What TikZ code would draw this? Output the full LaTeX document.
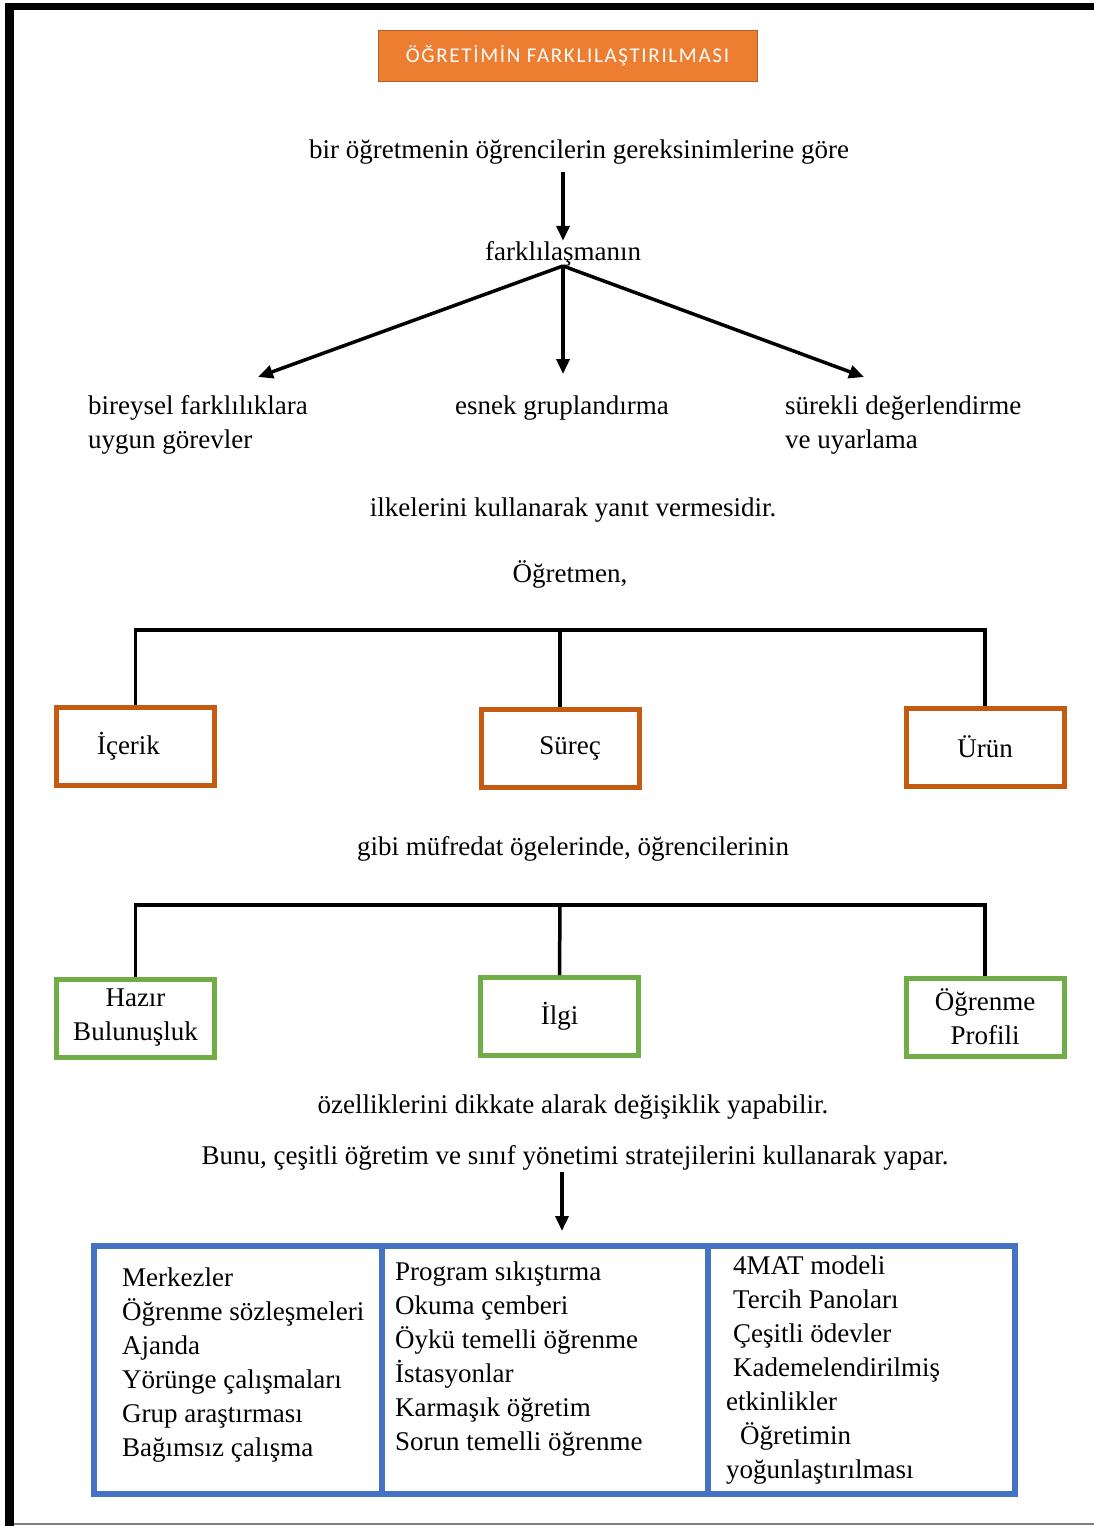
\documentclass[tikz,border=0pt]{standalone}
\usepackage{fontspec}
\setmainfont{Liberation Serif}
\newfontfamily\titlefont[LetterSpace=8]{Carlito}
\usetikzlibrary{arrows.meta,positioning}
\definecolor{titelorange}{HTML}{ED7D31}
\definecolor{kutuorange}{HTML}{C55A11}
\definecolor{kutuyesil}{HTML}{70AD47}
\definecolor{kutumavi}{HTML}{4472C4}
\begin{document}
\begin{tikzpicture}[x=1pt,y=-1pt,>={Triangle[length=15pt,width=13pt]},
	metin/.style={font=\fontsize{27}{34}\selectfont,inner sep=0pt},
	ok/.style={line width=3.5pt,->},
	hat/.style={line width=3.5pt},
	kutu/.style={metin,draw,line width=5pt,minimum width=158pt,minimum height=78pt,align=center},
	liste/.style={metin,align=left}]

\useasboundingbox (0,0) rectangle (1094,1526);
\draw[line width=7pt] (5,6.5) -- (1094,6.5);
\draw[line width=9pt] (9.5,3) -- (9.5,1526);
\draw[gray,line width=1.5pt] (14,1524) -- (1094,1524);

\node[fill=titelorange,draw=titelorange!75!black,line width=1pt,minimum width=379pt,minimum height=51pt,
	text=white,font=\titlefont\fontsize{21}{24}\selectfont] (baslik) at (567.5,55.5) {ÖĞRETİMİN FARKLILAŞTIRILMASI};

\node[metin,anchor=base] (t1) at (579,158) {bir öğretmenin öğrencilerin gereksinimlerine göre};
	\node[metin,anchor=base] (t2) at (563,260) {farklılaşmanın};
\node[liste,anchor=base west] (l1) at (88,448) {bireysel farklılıklara\\uygun görevler};
	\node[metin,anchor=base] (l2) at (562,414) {esnek gruplandırma};
\node[liste,anchor=base west] (l3) at (785,448) {sürekli değerlendirme\\ve uyarlama};
\coordinate (u1) at (258,377);
	\coordinate (u3) at (864,377);

\draw[ok] (t1.south -| t2) ++(0,8) -- (t2.north);
\draw[ok] (t2.south) -- (u1);
\draw[ok] (t2.south) -- (t2.south |- 0,374);
	\draw[ok] (t2.south) -- (u3);

\node[metin,anchor=base] (t3) at (573,516) {ilkelerini kullanarak yanıt vermesidir.};
\node[metin,anchor=base] (t4) at (570,582) {Öğretmen,};

% müfredat ögeleri
\node[kutu,draw=kutuorange] (k1) at (135.5,746.5) {\hspace{-14pt}İçerik};
	\node[kutu,draw=kutuorange] (k2) at (560,748.5) {\hspace{20pt}Süreç};
\node[kutu,draw=kutuorange] (k3) at (985,747) {Ürün};
\coordinate (h1) at (560,630);
\draw[hat] (k1.north) |- (h1) -| (k3.north);
	\draw[hat] (h1) -- (k2.north);

\node[metin,anchor=base] (t5) at (573,855) {gibi müfredat ögelerinde, öğrencilerinin};

% öğrenci özellikleri
\node[kutu,draw=kutuyesil] (g1) at (135.5,1018) {Hazır\\Bulunuşluk};
	\node[kutu,draw=kutuyesil] (g2) at (559.5,1016.5) {İlgi};
\node[kutu,draw=kutuyesil] (g3) at (985,1017) {Öğrenme\\Profili};
\coordinate (h2) at (560,905);
\draw[hat] (g1.north) |- (h2) -| (g3.north);
	\draw[hat] (h2) -- (g2.north);

\node[metin,anchor=base] (t6) at (573,1113) {özelliklerini dikkate alarak değişiklik yapabilir.};
\node[metin,anchor=base] (t7) at (575,1164) {Bunu, çeşitli öğretim ve sınıf yönetimi stratejilerini kullanarak yapar.};

% stratejiler
\node[draw=kutumavi,line width=5.5pt,minimum width=288pt,minimum height=248pt] (s1) at (238,1370) {};
	\node[draw=kutumavi,line width=5.5pt,minimum width=326pt,minimum height=248pt] (s2) at (545,1370) {};
\node[draw=kutumavi,line width=5.5pt,minimum width=307pt,minimum height=248pt] (s3) at (861.5,1370) {};
\coordinate (o1) at (562,1231);
\draw[ok] (t7.south -| o1) ++(0,2) -- (o1);

\node[liste,anchor=base west] (m1) at (122,1456) {Merkezler\\Öğrenme sözleşmeleri\\Ajanda\\Yörünge çalışmaları\\Grup araştırması\\Bağımsız çalışma};
	\node[liste,anchor=base west] (m2) at (395,1450) {Program sıkıştırma\\Okuma çemberi\\Öykü temelli öğrenme\\İstasyonlar\\Karmaşık öğretim\\Sorun temelli öğrenme};
\node[liste,anchor=base west] (m3) at (726,1478) {\hspace{7pt}4MAT modeli\\\hspace{7pt}Tercih Panoları\\\hspace{7pt}Çeşitli ödevler\\\hspace{7pt}Kademelendirilmiş\\etkinlikler\\\hspace{14pt}Öğretimin\\yoğunlaştırılması};
\end{tikzpicture}
\end{document}
